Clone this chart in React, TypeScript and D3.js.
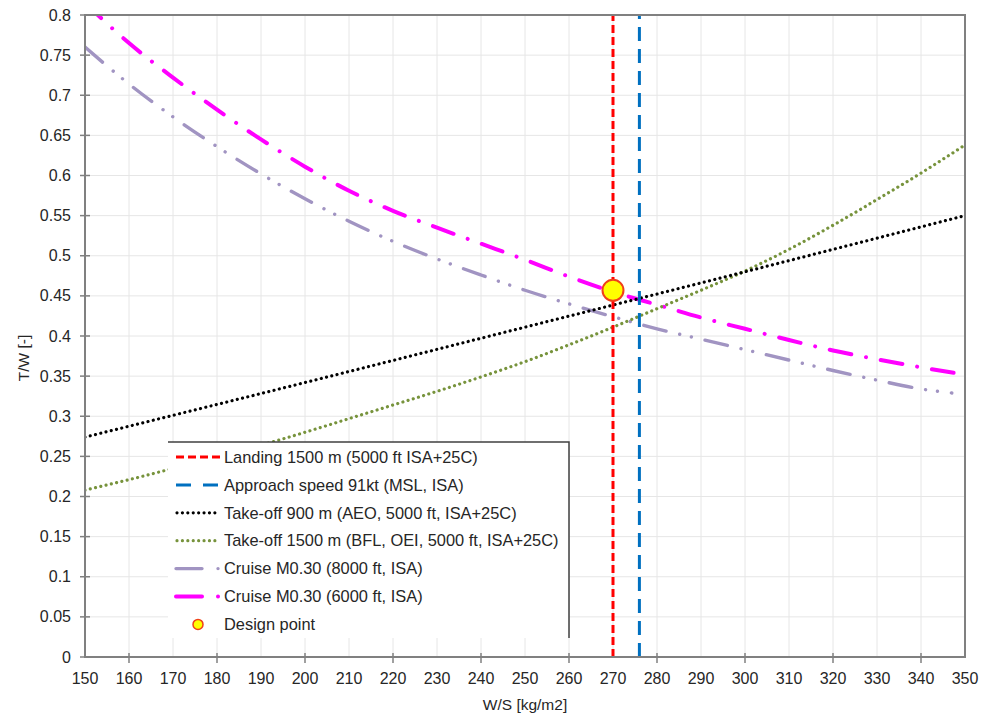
import React from "react";
import * as d3 from "d3";

const xTicks = [150, 160, 170, 180, 190, 200, 210, 220, 230, 240, 250, 260, 270, 280, 290, 300, 310, 320, 330, 340, 350];
const yTicks = [0, 0.05, 0.1, 0.15, 0.2, 0.25, 0.3, 0.35, 0.4, 0.45, 0.5, 0.55, 0.6, 0.65, 0.7, 0.75, 0.8];

const landingWS = 270;
const approachWS = 276;

const takeoff900WS = [150, 200, 250, 300, 350];
const takeoff900TW = [0.274, 0.342, 0.411, 0.48, 0.55];

const takeoff1500WS = [150, 160, 170, 180, 190, 200, 210, 220, 230, 240, 250, 260, 270, 280, 290, 300, 310, 320, 330, 340, 350];
const takeoff1500TW = [0.208, 0.221, 0.235, 0.25, 0.264, 0.28, 0.297, 0.314, 0.331, 0.349, 0.368, 0.389, 0.411, 0.434, 0.457, 0.481, 0.508, 0.538, 0.57, 0.603, 0.638];

const cruise8000WS = [150, 160, 170, 180, 190, 200, 210, 220, 230, 240, 250, 260, 270, 280, 290, 300, 310, 320, 330, 340, 347];
const cruise8000TW = [0.76, 0.714, 0.673, 0.636, 0.602, 0.571, 0.543, 0.518, 0.496, 0.476, 0.457, 0.44, 0.424, 0.409, 0.396, 0.383, 0.37, 0.357, 0.345, 0.334, 0.329];

const cruise6000WS = [150, 160, 170, 180, 190, 200, 210, 220, 230, 240, 250, 260, 270, 280, 290, 300, 310, 320, 330, 340, 347.5];
const cruise6000TW = [0.815, 0.765, 0.722, 0.682, 0.645, 0.611, 0.581, 0.556, 0.535, 0.515, 0.495, 0.474, 0.455, 0.439, 0.423, 0.409, 0.395, 0.382, 0.371, 0.361, 0.354];

const designWS = [270];
const designTW = [0.457];

const legendLabels = [
  "Landing 1500 m (5000 ft ISA+25C)",
  "Approach speed 91kt (MSL, ISA)",
  "Take-off 900 m (AEO, 5000 ft, ISA+25C)",
  "Take-off 1500 m (BFL, OEI, 5000 ft, ISA+25C)",
  "Cruise M0.30 (8000 ft, ISA)",
  "Cruise M0.30 (6000 ft, ISA)",
  "Design point",
];

const FONT = "'Liberation Sans', Arial, sans-serif";

export default function App() {
  const W = 992, H = 720;
  const left = 85, right = 965, top = 15, bottom = 657;
  const x = d3.scaleLinear().domain([150, 350]).range([left, right]);
  const y = d3.scaleLinear().domain([0, 0.8]).range([bottom, top]);

  const mk = (ws: number[], tw: number[]) => {
    const pts: [number, number][] = ws.map((w, i) => [w, tw[i]]);
    return d3.line<[number, number]>().x(d => x(d[0])).y(d => y(d[1])).curve(d3.curveMonotoneX)(pts) || "";
  };

  const styles = {
    landing: { stroke: "#FF0000", strokeWidth: 3, strokeDasharray: "8,4" },
    approach: { stroke: "#0070C0", strokeWidth: 3, strokeDasharray: "14,8" },
    to900: { stroke: "#000000", strokeWidth: 3.2, strokeDasharray: "0.01,5.4", strokeLinecap: "round" as const },
    to1500: { stroke: "#77933C", strokeWidth: 3.2, strokeDasharray: "0.01,5.4", strokeLinecap: "round" as const },
    c8000: { stroke: "#A194C2", strokeWidth: 3.4, strokeDasharray: "23,14,0.01,12,0.01,14", strokeLinecap: "round" as const },
    c6000: { stroke: "#FF00FF", strokeWidth: 4, strokeDasharray: "22,15,0.01,15", strokeLinecap: "round" as const },
  };

  const legX = 168, legTop = 442, legRight = 569, legBottom = 638;
  const rowY = (i: number) => 457 + i * 27.9;
  const sx0 = 176, sx1 = 220, tx = 224;

  return (
    <svg width={W} height={H} style={{ position: "absolute", left: 0, top: 0, background: "#fff" }} fontFamily={FONT}>
      <defs>
        <clipPath id="plot">
          <rect x={left} y={top} width={right - left} height={bottom - top} />
        </clipPath>
      </defs>
      <rect x={0} y={0} width={W} height={H} fill="#fff" />
      {/* grid */}
      <g stroke="#E6E6E6" strokeWidth={1}>
        {xTicks.map(t => (
          <line key={"gx" + t} x1={x(t)} x2={x(t)} y1={top} y2={bottom} />
        ))}
        {yTicks.map(t => (
          <line key={"gy" + t} x1={left} x2={right} y1={y(t)} y2={y(t)} />
        ))}
      </g>
      {/* curves */}
      <g clipPath="url(#plot)" fill="none">
        <path d={mk(cruise8000WS, cruise8000TW)} {...styles.c8000} />
        <path d={mk(cruise6000WS, cruise6000TW)} {...styles.c6000} />
        <path d={mk(takeoff1500WS, takeoff1500TW)} {...styles.to1500} />
        <path d={mk(takeoff900WS, takeoff900TW)} {...styles.to900} />
        <line x1={x(landingWS)} x2={x(landingWS)} y1={bottom} y2={top} {...styles.landing} />
        <line x1={x(approachWS)} x2={x(approachWS)} y1={bottom} y2={top} {...styles.approach} />
        {designWS.map((w, i) => (
          <circle key={"dp" + i} cx={x(w)} cy={y(designTW[i])} r={10.5} fill="#FFFF00" stroke="#F0401A" strokeWidth={2} />
        ))}
      </g>
      {/* frame */}
      <rect x={left} y={top} width={right - left} height={bottom - top} fill="none" stroke="#808080" strokeWidth={2} />
      {/* ticks */}
      <g stroke="#808080" strokeWidth={1.5}>
        {xTicks.filter(t => t % 20 === 0).map(t => (
          <line key={"tx" + t} x1={x(t)} x2={x(t)} y1={bottom - 4} y2={bottom + 6} />
        ))}
        {yTicks.map(t => (
          <line key={"ty" + t} x1={left - 5} x2={left + 5} y1={y(t)} y2={y(t)} />
        ))}
      </g>
      {/* tick labels */}
      <g fontSize={16} fill="#262626">
        {xTicks.map(t => (
          <text key={"lx" + t} x={x(t)} y={684} textAnchor="middle">{t}</text>
        ))}
        {yTicks.map(t => (
          <text key={"ly" + t} x={71} y={y(t)} dy="0.35em" textAnchor="end">{String(t)}</text>
        ))}
      </g>
      {/* axis titles */}
      <text x={525} y={710} textAnchor="middle" fontSize={15.5} fill="#262626">W/S [kg/m2]</text>
      <text transform="translate(29,358) rotate(-90)" textAnchor="middle" fontSize={15.5} fill="#262626">T/W [-]</text>
      {/* legend */}
      <rect x={legX} y={legTop} width={legRight - legX} height={legBottom - legTop} fill="#fff" />
      <path d={`M${legX},${legTop}H${legRight}V${legBottom}`} fill="none" stroke="#404040" strokeWidth={1.5} />
      <g fill="none">
        <line x1={sx0} x2={sx1} y1={rowY(0)} y2={rowY(0)} {...styles.landing} strokeDasharray="8,4" />
        <line x1={sx0} x2={sx1} y1={rowY(1)} y2={rowY(1)} {...styles.approach} strokeDasharray="15,12" />
        <line x1={sx0 + 1} x2={sx1} y1={rowY(2)} y2={rowY(2)} {...styles.to900} />
        <line x1={sx0 + 1} x2={sx1} y1={rowY(3)} y2={rowY(3)} {...styles.to1500} />
        <line x1={sx0} x2={sx1} y1={rowY(4)} y2={rowY(4)} {...styles.c8000} strokeDasharray="26,16,0.01,40" />
        <line x1={sx0} x2={sx1} y1={rowY(5)} y2={rowY(5)} {...styles.c6000} strokeDasharray="26,16,0.01,40" />
        <circle cx={198} cy={rowY(6)} r={5} fill="#FFFF00" stroke="#F0401A" strokeWidth={1.5} />
      </g>
      <g fontSize={16.4} fill="#262626">
        {legendLabels.map((l, i) => (
          <text key={"lg" + i} x={tx} y={rowY(i)} dy="0.35em">{l}</text>
        ))}
      </g>
    </svg>
  );
}
